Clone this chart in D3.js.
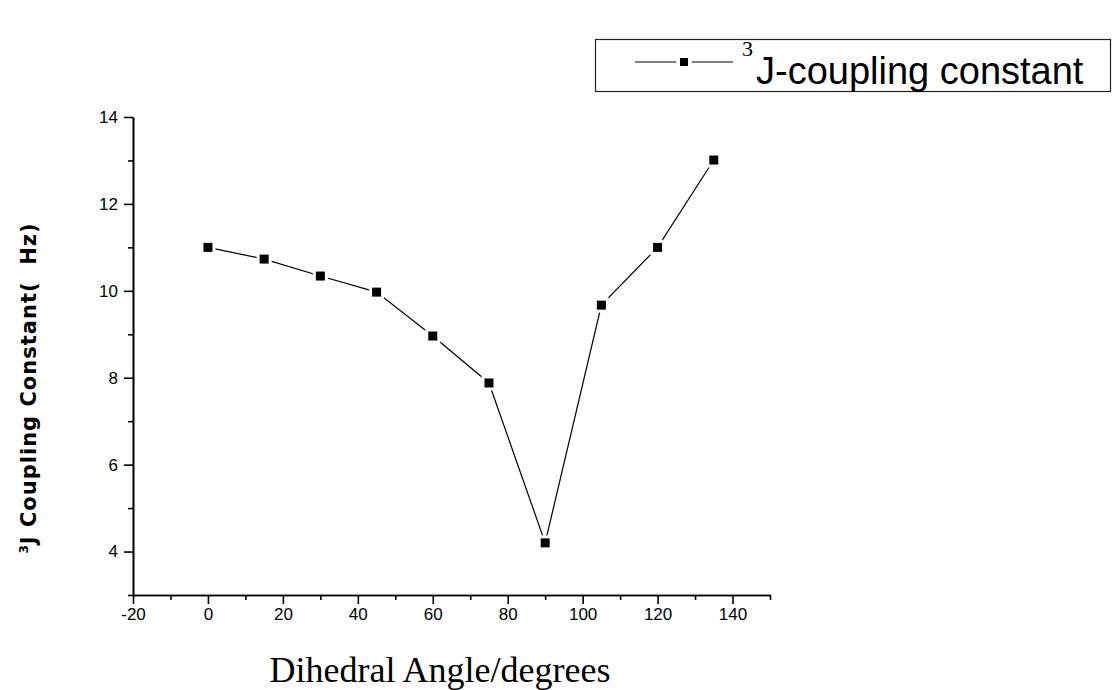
<!DOCTYPE html>
<html>
<head>
<meta charset="utf-8">
<script src="https://cdn.jsdelivr.net/npm/d3@7"></script>
<style>
  body { margin: 0; background: #fff; }
  svg { display: block; }
  .axis path, .axis line { stroke: #000; stroke-width: 1.6px; }
</style>
</head>
<body>
<svg id="chart" width="1112" height="690"></svg>
<script>
// dihedral angle (degrees) vs 3J coupling constant (Hz)
const angles = [0, 15, 30, 45, 60, 75, 90, 105, 120, 135];
const couplings = [11.0, 10.73, 10.34, 9.97, 8.96, 7.88, 4.2, 9.67, 11.0, 13.01];
const xTicks = [-20, 0, 20, 40, 60, 80, 100, 120, 140];
const yTicks = [4, 6, 8, 10, 12, 14];
const seriesName = "J-coupling constant";

const svg = d3.select("#chart");
const margin = {top: 117, right: 342, bottom: 95, left: 133};
const width = 1112 - margin.left - margin.right;   // 637
const height = 690 - margin.top - margin.bottom;   // 478

const x = d3.scaleLinear().domain([-20, 150]).range([margin.left, margin.left + width]);
const y = d3.scaleLinear().domain([3, 14]).range([margin.top + height, margin.top]);

// minor ticks first so the major ones draw over them
const xMinor = d3.range(-10, 151, 20);
const yMinor = d3.range(3, 14, 2);

svg.append("g")
    .attr("class", "axis")
    .attr("transform", "translate(0," + (margin.top + height) + ")")
    .call(d3.axisBottom(x).tickValues(xMinor).tickSize(5).tickFormat("").tickSizeOuter(0));
svg.append("g")
    .attr("class", "axis")
    .attr("transform", "translate(" + margin.left + ",0)")
    .call(d3.axisLeft(y).tickValues(yMinor).tickSize(5).tickFormat("").tickSizeOuter(0));

// plain hyphen for negatives, as in the original
const fmt = d => String(d);

const xAxis = svg.append("g")
    .attr("class", "axis")
    .attr("transform", "translate(0," + (margin.top + height) + ")")
    .call(d3.axisBottom(x).tickValues(xTicks).tickFormat(fmt).tickSize(9).tickPadding(4).tickSizeOuter(0));
const yAxis = svg.append("g")
    .attr("class", "axis")
    .attr("transform", "translate(" + margin.left + ",0)")
    .call(d3.axisLeft(y).tickValues(yTicks).tickFormat(fmt).tickSize(9).tickPadding(6).tickSizeOuter(0));

[xAxis, yAxis].forEach(a => a.attr("font-family", "'Liberation Sans', Arial, sans-serif")
    .attr("font-size", 17)
    .selectAll("text").attr("fill", "#000"));

// the data line
const line = d3.line().x((d, i) => x(angles[i])).y(d => y(d));
svg.append("path")
    .datum(couplings)
    .attr("fill", "none")
    .attr("stroke", "#000")
    .attr("stroke-width", 1.2)
    .attr("d", line);

// white halo then black square, like the gaps Origin leaves round markers
const m = 9;
svg.selectAll(".halo")
    .data(couplings)
    .enter().append("rect")
    .attr("class", "halo")
    .attr("x", (d, i) => x(angles[i]) - m / 2 - 3)
    .attr("y", d => y(d) - m / 2 - 3)
    .attr("width", m + 6)
    .attr("height", m + 6)
    .attr("fill", "#fff");
svg.selectAll(".pt")
    .data(couplings)
    .enter().append("rect")
    .attr("class", "pt")
    .attr("x", (d, i) => x(angles[i]) - m / 2)
    .attr("y", d => y(d) - m / 2)
    .attr("width", m)
    .attr("height", m)
    .attr("fill", "#000");

// axis titles
svg.append("text")
    .attr("x", 440)
    .attr("y", 682)
    .attr("text-anchor", "middle")
    .attr("font-family", "'Liberation Serif', 'Times New Roman', serif")
    .attr("font-size", 36)
    .text("Dihedral Angle/degrees");

const yTitle = svg.append("text")
    .attr("transform", "translate(36,388) rotate(-90)")
    .attr("text-anchor", "middle")
    .attr("font-family", "'DejaVu Sans', sans-serif")
    .attr("font-weight", "bold")
    .attr("letter-spacing", 1)
    .attr("font-size", 21);
yTitle.append("tspan").attr("font-size", 12).attr("dy", -8).text("3");
yTitle.append("tspan").attr("dy", 8).text("J Coupling Constant(\u00a0\u00a0Hz)");

// legend
const legend = svg.append("g");
legend.append("rect")
    .attr("x", 595.5)
    .attr("y", 39.5)
    .attr("width", 515)
    .attr("height", 52)
    .attr("fill", "#fff")
    .attr("stroke", "#222")
    .attr("stroke-width", 1.2);
legend.append("line")
    .attr("x1", 635).attr("x2", 676).attr("y1", 62).attr("y2", 62)
    .attr("stroke", "#000").attr("stroke-width", 1.2);
legend.append("line")
    .attr("x1", 692).attr("x2", 733).attr("y1", 62).attr("y2", 62)
    .attr("stroke", "#000").attr("stroke-width", 1.2);
legend.append("rect")
    .attr("x", 684 - 4).attr("y", 62 - 4).attr("width", 8).attr("height", 8)
    .attr("fill", "#000");
legend.append("text")
    .attr("x", 742)
    .attr("y", 56)
    .attr("font-family", "'Liberation Serif', 'Times New Roman', serif")
    .attr("font-size", 22)
    .text("3");
legend.append("text")
    .attr("x", 756)
    .attr("y", 84)
    .attr("font-family", "'Liberation Sans', Arial, sans-serif")
    .attr("font-size", 38)
    .text(seriesName);
</script>
</body>
</html>
